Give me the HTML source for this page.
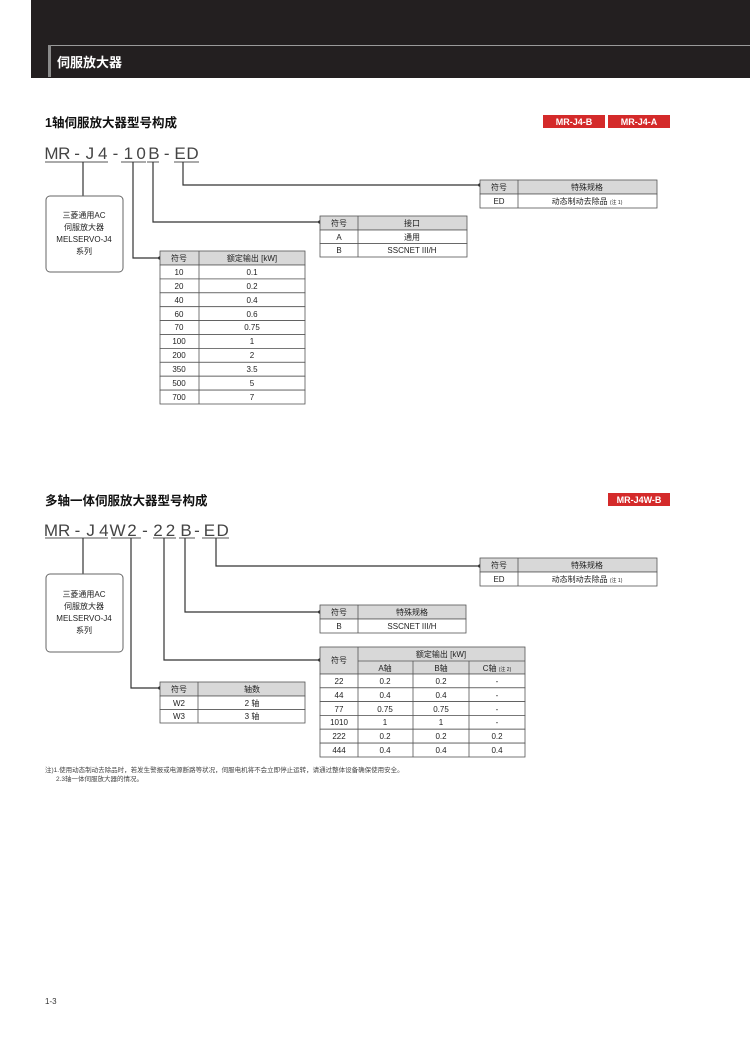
<!DOCTYPE html>
<html><head><meta charset="utf-8"><style>
body{margin:0;background:#fff;width:750px;height:1051px;overflow:hidden}
text{font-family:"Liberation Sans","Noto Sans CJK SC",sans-serif;fill:#222}
.t{font-size:8px;text-anchor:middle}
.m{font-size:17px;fill:#444;text-anchor:middle}
</style></head><body>
<svg width="750" height="1051" xmlns="http://www.w3.org/2000/svg">
<rect x="31" y="0" width="719" height="78" fill="#231f20"/>
<line x1="49" y1="45.5" x2="750" y2="45.5" stroke="#9a9a9a" stroke-width="1"/>
<rect x="48" y="45" width="3" height="32" fill="#8a8a8a"/>
<text x="57" y="67" style="font-size:13px;font-weight:bold;fill:#fff">伺服放大器</text>

<!-- Section 1 -->
<text x="45" y="127" style="font-size:12.5px;font-weight:bold;fill:#111">1轴伺服放大器型号构成</text>
<rect x="543" y="115" width="62" height="13" fill="#d42a2a"/>
<text x="574" y="125" class="t" style="fill:#fff;font-size:9px;font-weight:bold">MR-J4-B</text>
<rect x="608" y="115" width="62" height="13" fill="#d42a2a"/>
<text x="639" y="125" class="t" style="fill:#fff;font-size:9px;font-weight:bold">MR-J4-A</text>

<text x="51.5" y="159" class="m">M</text><text x="64.3" y="159" class="m">R</text><text x="77.1" y="159" class="m">-</text><text x="89.9" y="159" class="m">J</text><text x="102.7" y="159" class="m">4</text><text x="115.5" y="159" class="m">-</text><text x="128.3" y="159" class="m">1</text><text x="141.1" y="159" class="m">0</text><text x="153.9" y="159" class="m">B</text><text x="166.7" y="159" class="m">-</text><text x="180" y="159" class="m">E</text><text x="192.5" y="159" class="m">D</text>
<g stroke="#555" stroke-width="1" fill="none">
<line x1="45" y1="162" x2="108" y2="162"/><line x1="121" y1="162" x2="146" y2="162"/><line x1="147" y1="162" x2="159" y2="162"/><line x1="174" y1="162" x2="199" y2="162"/>
</g>
<g stroke="#333" stroke-width="1.2" fill="none">
<polyline points="83,162 83,196"/>
<polyline points="133,162 133,258 160,258"/>
<polyline points="153,162 153,222 320,222"/>
<polyline points="183,162 183,185 480,185"/>
</g>
<circle cx="160" cy="258" r="1.8" fill="#222"/><circle cx="320" cy="222" r="1.8" fill="#222"/><circle cx="480" cy="185" r="1.8" fill="#222"/>
<rect x="46" y="196" width="77" height="76" rx="4" fill="#fff" stroke="#666"/>
<text x="84" y="218" class="t">三菱通用AC</text><text x="84" y="230" class="t">伺服放大器</text><text x="84" y="242" class="t">MELSERVO-J4</text><text x="84" y="254" class="t">系列</text>

<g stroke="#555" stroke-width="0.8">
<rect x="480" y="180" width="177" height="14" fill="#d8d8d8"/><rect x="480" y="194" width="177" height="14" fill="#fff"/>
<line x1="518" y1="180" x2="518" y2="208"/>
</g>
<text x="499" y="190" class="t">符号</text><text x="587" y="190" class="t">特殊规格</text>
<text x="499" y="204" class="t">ED</text><text x="587" y="204" class="t">动态制动去除品 <tspan style="font-size:5px">(注 1)</tspan></text>

<g stroke="#555" stroke-width="0.8">
<rect x="320" y="216" width="147" height="14" fill="#d8d8d8"/><rect x="320" y="230" width="147" height="13.5" fill="#fff"/><rect x="320" y="243.5" width="147" height="13.5" fill="#fff"/>
<line x1="358" y1="216" x2="358" y2="257"/>
</g>
<text x="339" y="226" class="t">符号</text><text x="412" y="226" class="t">接口</text>
<text x="339" y="240" class="t">A</text><text x="412" y="240" class="t">通用</text>
<text x="339" y="253" class="t">B</text><text x="412" y="253" class="t">SSCNET III/H</text>

<g stroke="#555" stroke-width="0.8" fill="#fff">
<rect x="160" y="251" width="145" height="14" fill="#d8d8d8"/>
<rect x="160" y="265" width="145" height="13.9"/><rect x="160" y="278.9" width="145" height="13.9"/><rect x="160" y="292.8" width="145" height="13.9"/><rect x="160" y="306.7" width="145" height="13.9"/><rect x="160" y="320.6" width="145" height="13.9"/><rect x="160" y="334.5" width="145" height="13.9"/><rect x="160" y="348.4" width="145" height="13.9"/><rect x="160" y="362.3" width="145" height="13.9"/><rect x="160" y="376.2" width="145" height="13.9"/><rect x="160" y="390.1" width="145" height="13.9"/>
<line x1="199" y1="251" x2="199" y2="404"/>
</g>
<text x="179" y="261" class="t">符号</text><text x="252" y="261" class="t">额定输出 [kW]</text>
<text x="179" y="275" class="t">10</text><text x="252" y="275" class="t">0.1</text>
<text x="179" y="289" class="t">20</text><text x="252" y="289" class="t">0.2</text>
<text x="179" y="303" class="t">40</text><text x="252" y="303" class="t">0.4</text>
<text x="179" y="317" class="t">60</text><text x="252" y="317" class="t">0.6</text>
<text x="179" y="330" class="t">70</text><text x="252" y="330" class="t">0.75</text>
<text x="179" y="344" class="t">100</text><text x="252" y="344" class="t">1</text>
<text x="179" y="358" class="t">200</text><text x="252" y="358" class="t">2</text>
<text x="179" y="372" class="t">350</text><text x="252" y="372" class="t">3.5</text>
<text x="179" y="386" class="t">500</text><text x="252" y="386" class="t">5</text>
<text x="179" y="400" class="t">700</text><text x="252" y="400" class="t">7</text>

<!-- Section 2 -->
<text x="45" y="505" style="font-size:12.5px;font-weight:bold;fill:#111">多轴一体伺服放大器型号构成</text>
<rect x="608" y="493" width="62" height="13" fill="#d42a2a"/>
<text x="639" y="503" class="t" style="fill:#fff;font-size:9px;font-weight:bold">MR-J4W-B</text>

<text x="51" y="536" class="m">M</text><text x="64.2" y="536" class="m">R</text><text x="77.4" y="536" class="m">-</text><text x="90.6" y="536" class="m">J</text><text x="103.8" y="536" class="m">4</text><text x="117.5" y="536" class="m">W</text><text x="132" y="536" class="m">2</text><text x="145" y="536" class="m">-</text><text x="158" y="536" class="m">2</text><text x="170.5" y="536" class="m">2</text><text x="186" y="536" class="m">B</text><text x="197" y="536" class="m">-</text><text x="209.4" y="536" class="m">E</text><text x="222.6" y="536" class="m">D</text>
<g stroke="#555" stroke-width="1" fill="none">
<line x1="45" y1="538" x2="108" y2="538"/><line x1="111" y1="538" x2="141" y2="538"/><line x1="153" y1="538" x2="176" y2="538"/><line x1="179" y1="538" x2="195" y2="538"/><line x1="202" y1="538" x2="229" y2="538"/>
</g>
<g stroke="#333" stroke-width="1.2" fill="none">
<polyline points="83,538 83,574"/>
<polyline points="131,538 131,688 160,688"/>
<polyline points="164,538 164,660 320,660"/>
<polyline points="185,538 185,612 320,612"/>
<polyline points="216,538 216,566 480,566"/>
</g>
<circle cx="160" cy="688" r="1.8" fill="#222"/><circle cx="320" cy="660" r="1.8" fill="#222"/><circle cx="320" cy="612" r="1.8" fill="#222"/><circle cx="480" cy="566" r="1.8" fill="#222"/>
<rect x="46" y="574" width="77" height="78" rx="4" fill="#fff" stroke="#666"/>
<text x="84" y="597" class="t">三菱通用AC</text><text x="84" y="609" class="t">伺服放大器</text><text x="84" y="621" class="t">MELSERVO-J4</text><text x="84" y="633" class="t">系列</text>

<g stroke="#555" stroke-width="0.8">
<rect x="480" y="558" width="177" height="14" fill="#d8d8d8"/><rect x="480" y="572" width="177" height="14" fill="#fff"/>
<line x1="518" y1="558" x2="518" y2="586"/>
</g>
<text x="499" y="568" class="t">符号</text><text x="587" y="568" class="t">特殊规格</text>
<text x="499" y="582" class="t">ED</text><text x="587" y="582" class="t">动态制动去除品 <tspan style="font-size:5px">(注 1)</tspan></text>

<g stroke="#555" stroke-width="0.8">
<rect x="320" y="605" width="146" height="14" fill="#d8d8d8"/><rect x="320" y="619" width="146" height="14" fill="#fff"/>
<line x1="358" y1="605" x2="358" y2="633"/>
</g>
<text x="339" y="615" class="t">符号</text><text x="412" y="615" class="t">特殊规格</text>
<text x="339" y="629" class="t">B</text><text x="412" y="629" class="t">SSCNET III/H</text>

<g stroke="#555" stroke-width="0.8">
<rect x="160" y="682" width="145" height="14" fill="#d8d8d8"/><rect x="160" y="696" width="145" height="13.5" fill="#fff"/><rect x="160" y="709.5" width="145" height="13.5" fill="#fff"/>
<line x1="198" y1="682" x2="198" y2="723"/>
</g>
<text x="179" y="692" class="t">符号</text><text x="252" y="692" class="t">轴数</text>
<text x="179" y="706" class="t">W2</text><text x="252" y="706" class="t">2 轴</text>
<text x="179" y="719" class="t">W3</text><text x="252" y="719" class="t">3 轴</text>

<g stroke="#555" stroke-width="0.8">
<rect x="320" y="647" width="205" height="27" fill="#d8d8d8"/>
<line x1="358" y1="661" x2="525" y2="661"/>
<rect x="320" y="674" width="205" height="13.8" fill="#fff"/><rect x="320" y="687.8" width="205" height="13.8" fill="#fff"/><rect x="320" y="701.6" width="205" height="13.8" fill="#fff"/><rect x="320" y="715.4" width="205" height="13.8" fill="#fff"/><rect x="320" y="729.2" width="205" height="13.9" fill="#fff"/><rect x="320" y="743.1" width="205" height="13.9" fill="#fff"/>
<line x1="358" y1="647" x2="358" y2="757"/><line x1="413" y1="661" x2="413" y2="757"/><line x1="469" y1="661" x2="469" y2="757"/>
</g>
<text x="339" y="663" class="t">符号</text><text x="441" y="657" class="t">额定输出 [kW]</text>
<text x="385" y="671" class="t">A轴</text><text x="441" y="671" class="t">B轴</text><text x="497" y="671" class="t">C轴 <tspan style="font-size:5px">(注 2)</tspan></text>
<text x="339" y="684" class="t">22</text><text x="385" y="684" class="t">0.2</text><text x="441" y="684" class="t">0.2</text><text x="497" y="684" class="t">-</text>
<text x="339" y="698" class="t">44</text><text x="385" y="698" class="t">0.4</text><text x="441" y="698" class="t">0.4</text><text x="497" y="698" class="t">-</text>
<text x="339" y="712" class="t">77</text><text x="385" y="712" class="t">0.75</text><text x="441" y="712" class="t">0.75</text><text x="497" y="712" class="t">-</text>
<text x="339" y="725" class="t">1010</text><text x="385" y="725" class="t">1</text><text x="441" y="725" class="t">1</text><text x="497" y="725" class="t">-</text>
<text x="339" y="739" class="t">222</text><text x="385" y="739" class="t">0.2</text><text x="441" y="739" class="t">0.2</text><text x="497" y="739" class="t">0.2</text>
<text x="339" y="753" class="t">444</text><text x="385" y="753" class="t">0.4</text><text x="441" y="753" class="t">0.4</text><text x="497" y="753" class="t">0.4</text>

<text x="45" y="772" style="font-size:6.5px;fill:#444">注)1.使用动态制动去除品时，若发生警报或电源断路等状况，伺服电机将不会立即停止运转，请通过整体设备确保使用安全。</text>
<text x="56" y="781" style="font-size:6.5px;fill:#444">2.3轴一体伺服放大器的情况。</text>
<text x="45" y="1004" style="font-size:8px;fill:#333">1-3</text>
</svg>
</body></html>
